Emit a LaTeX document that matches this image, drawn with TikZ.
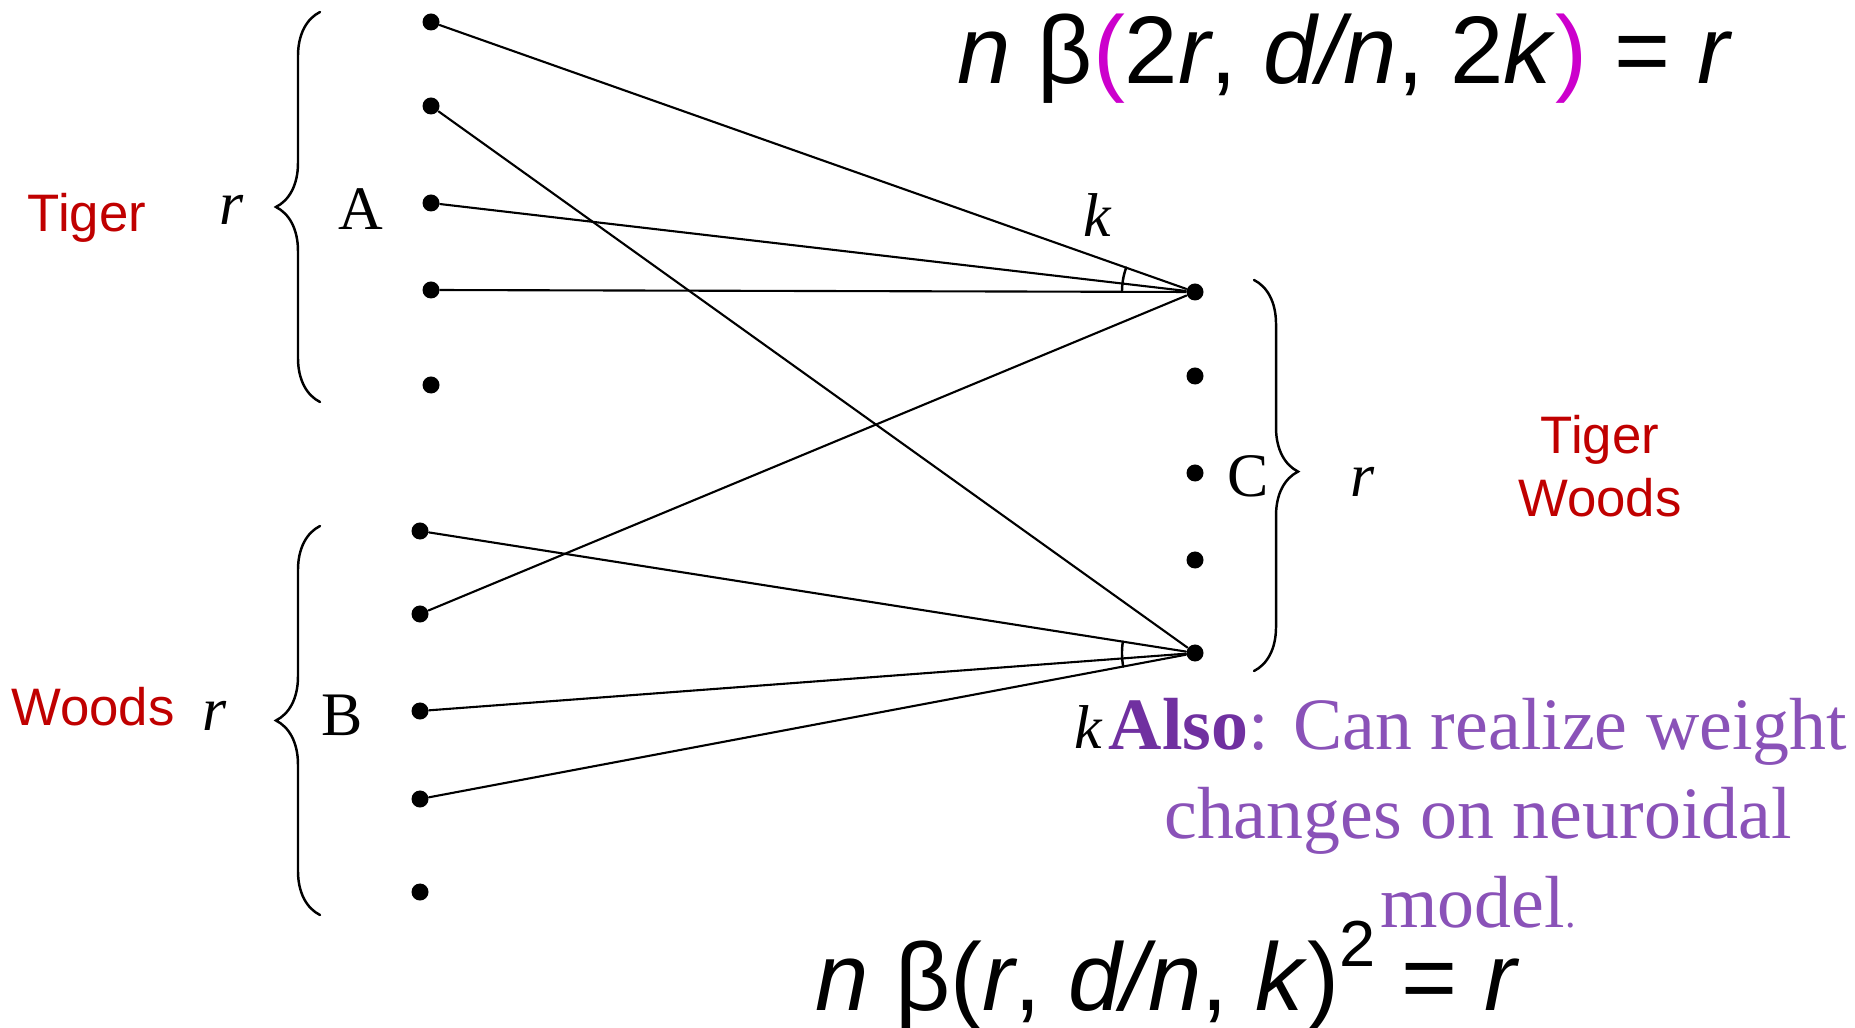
\documentclass[tikz,border=0pt]{standalone}
\usepackage{fontspec}
\setmainfont{Liberation Serif}
\newfontfamily\arialfont{Liberation Sans}
\usetikzlibrary{decorations.pathreplacing,angles}
\definecolor{tigerred}{HTML}{C00000}
\definecolor{alsopurple}{HTML}{7030A0}
\definecolor{notepurple}{HTML}{8A52B8}
\definecolor{parenmagenta}{HTML}{CC00CC}
\tikzset{neuron/.style={circle,fill=black,inner sep=0pt,minimum size=1.7mm},synapse/.style={line width=.6pt},setbrace/.style={decorate,decoration={brace,amplitude=4.4mm},line width=.7pt},namelabel/.style={font=\arialfont\fontsize{15}{17.8}\selectfont,text=tigerred,align=center,inner sep=0pt},setlabel/.style={font=\fontsize{17.6}{20}\selectfont,inner sep=0pt,anchor=base},formula/.style={font=\arialfont\fontsize{27.3}{30}\selectfont,anchor=base west,inner sep=0pt},every picture/.style={line cap=round}}

\begin{document}
\begin{tikzpicture}[x=0.01cm,y=-0.01cm]
\useasboundingbox (0,0) rectangle (1855,1028);
\foreach \k/\y in {1/22,2/106,3/203,4/290,5/385}{
\node[neuron] (a\k) at (431,\y) {};
}
\foreach \k/\y in {1/531,2/614,3/711,4/799,5/892}{
\node[neuron] (b\k) at (420,\y) {};
}
\foreach \k/\y in {1/292,2/376,3/473,4/560,5/653}{
\node[neuron] (c\k) at (1195,\y) {};
}
\foreach \s/\t in {a1/c1,a3/c1,a4/c1,b2/c1,a2/c5,b1/c5,b3/c5,b4/c5}{\draw[synapse] (\s)--(\t);}
\pic[draw,line width=.7pt,angle radius=7.3mm] {angle=a1--c1--a4};
\pic[draw,line width=.7pt,angle radius=7.3mm] {angle=b1--c5--b4};
% braces round the three sets
\draw[setbrace,decoration={aspect=.5}] (320,402)--(320,12);
\draw[setbrace,decoration={aspect=.5}] (320,915)--(320,526);
\draw[setbrace,decoration={aspect=.49}] (1254,280)--(1254,671);
\node[setlabel] (lA) at (361,230) {A};
\node[setlabel] (lB) at (342,735) {B};
\node[setlabel] (lC) at (1248,497) {C};
\node[setlabel] (rA) at (232,225) {\textit{r}};
\node[setlabel] (rB) at (215,730) {\textit{r}};
\node[setlabel] (rC) at (1363,497) {\textit{r}};
\node[setlabel] (kC1) at (1098,237) {\textit{k}};
\node[setlabel,anchor=base east] (kC5) at (1104,748) {\textit{k}};
\node[namelabel,anchor=base] (tiger) at (87,232) {Tiger};
\node[namelabel,anchor=base] (woods) at (93,725) {Woods};
\node[namelabel,anchor=north] (tigerwoods) at (1600,415) {Tiger\\Woods};
\node[formula] (top) at (957,84) {\textit{n} β\textcolor{parenmagenta}{(}2\textit{r}, \textit{d/n}, 2\textit{k}\textcolor{parenmagenta}{)} = \textit{r}};
\node[formula] (bottom) at (815,1010) {\textit{n} β(\textit{r}, \textit{d/n}, \textit{k})\raisebox{.85ex}{\fontsize{18.5}{20}\selectfont 2} = \textit{r}};
\node[anchor=north,align=center,inner sep=0pt,text=notepurple,font=\fontsize{21}{25.3}\selectfont] (also) at (1478,698) {\textbf{\textcolor{alsopurple}{Also}}: Can realize weight\\changes on neuroidal\\model{\fontsize{12}{14}\selectfont .}};
\end{tikzpicture}
\end{document}
